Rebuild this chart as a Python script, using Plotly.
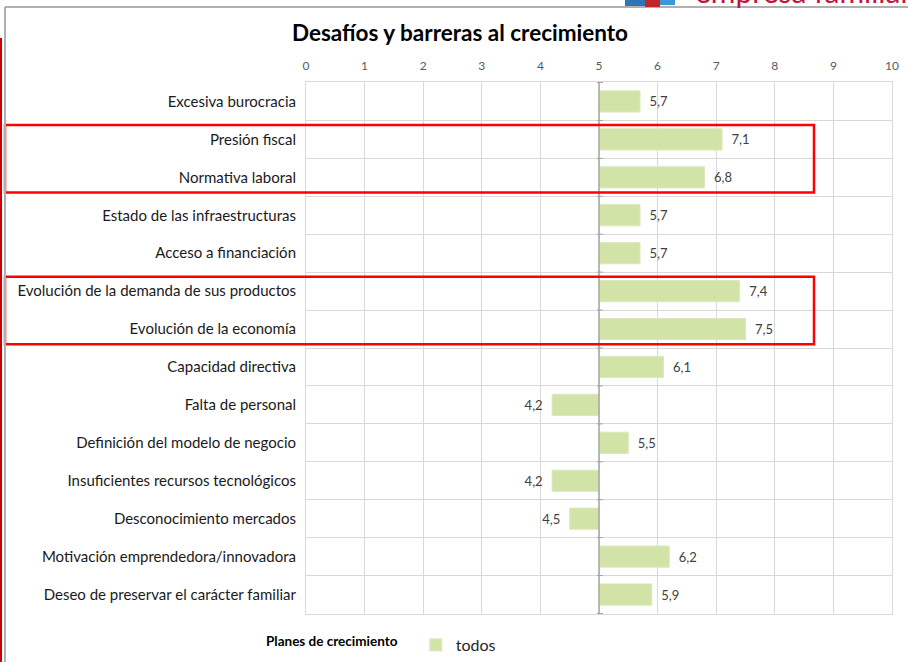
import plotly.graph_objects as go

# ---- data ----
categories = [
    "Excesiva burocracia",
    "Presión fiscal",
    "Normativa laboral",
    "Estado de las infraestructuras",
    "Acceso a financiación",
    "Evolución de la demanda de sus productos",
    "Evolución de la economía",
    "Capacidad directiva",
    "Falta de personal",
    "Definición del modelo de negocio",
    "Insuficientes recursos tecnológicos",
    "Desconocimiento mercados",
    "Motivación emprendedora/innovadora",
    "Deseo de preservar el carácter familiar",
]
values = [5.7, 7.1, 6.8, 5.7, 5.7, 7.4, 7.5, 6.1, 4.2, 5.5, 4.2, 4.5, 6.2, 5.9]
base_value = 5
x_ticks = list(range(0, 11))
series_name = "todos"
legend_title = "Planes de crecimiento"
title_text = "Desafíos y barreras al crecimiento"
highlight_groups = [("Presión fiscal", "Normativa laboral"),
                    ("Evolución de la demanda de sus productos", "Evolución de la economía")]

W, H = 908, 662
L, R, T, B = 306, 16, 82, 48
PW, PH = W - L - R, H - T - B


def px_x(px):
    return (px - L) / PW


def px_y(py):
    return (H - B - py) / PH


SP = "\u2002"
labels = [(SP + f"{v:.1f}".replace(".", ",")) if v >= base_value else (f"{v:.1f}".replace(".", ",") + SP)
          for v in values]

fig = go.Figure()
fig.add_trace(go.Bar(
    y=categories,
    x=[v - base_value for v in values],
    base=base_value,
    orientation="h",
    name=series_name,
    marker=dict(color="#d2e3a8", line=dict(color="#dce9bd", width=1)),
    text=labels,
    textposition="outside",
    textfont=dict(family="Lato", size=13, color="#404040"),
    cliponaxis=False,
    showlegend=True,
    hoverinfo="skip",
))

shapes = []
# axis line at base value
shapes.append(dict(type="line", xref="x", yref="paper", x0=base_value, x1=base_value, y0=0, y1=1,
                   line=dict(color="#a6a6a6", width=1.5), layer="above"))
for i in range(len(categories) + 1):
    shapes.append(dict(type="line", xref="paper", yref="y",
                       x0=px_x(597), x1=px_x(603), y0=i - 0.5, y1=i - 0.5,
                       line=dict(color="#a6a6a6", width=1), layer="above"))

# red highlight boxes
for a, b in highlight_groups:
    ia, ib = categories.index(a), categories.index(b)
    shapes.append(dict(type="rect", xref="paper", yref="y",
                       x0=px_x(5), x1=px_x(814), y0=ia - 0.5 + 0.12, y1=ib + 0.5 - 0.1,
                       line=dict(color="#ff0000", width=2.5), fillcolor="rgba(0,0,0,0)", layer="above"))

# slide frame decorations
shapes.append(dict(type="line", xref="paper", yref="paper", x0=px_x(5), x1=px_x(910),
                   y0=px_y(7), y1=px_y(7), line=dict(color="#b0b0b0", width=2)))
shapes.append(dict(type="line", xref="paper", yref="paper", x0=px_x(5), x1=px_x(5),
                   y0=px_y(7), y1=px_y(664), line=dict(color="#b0b0b0", width=2)))
shapes.append(dict(type="line", xref="paper", yref="paper", x0=px_x(1), x1=px_x(1),
                   y0=px_y(38), y1=px_y(664), line=dict(color="#cc0000", width=2)))
# logo bits
shapes.append(dict(type="rect", xref="paper", yref="paper", x0=px_x(625), x1=px_x(645),
                   y0=px_y(6), y1=px_y(-5), fillcolor="#2e75b6", line=dict(width=0)))
shapes.append(dict(type="rect", xref="paper", yref="paper", x0=px_x(645), x1=px_x(660),
                   y0=px_y(7), y1=px_y(-5), fillcolor="#c0272d", line=dict(width=0)))
shapes.append(dict(type="rect", xref="paper", yref="paper", x0=px_x(660), x1=px_x(675),
                   y0=px_y(5), y1=px_y(-5), fillcolor="#3a9ad9", line=dict(width=0)))

annotations = [
    dict(text="empresa familiar", xref="paper", yref="paper", x=px_x(693), y=px_y(-29),
         xanchor="left", yanchor="top", showarrow=False,
         font=dict(family="Lato", size=30, color="#c0143c")),
]

fig.update_layout(
    width=W, height=H,
    margin=dict(l=L, r=R, t=T, b=B, autoexpand=False),
    paper_bgcolor="white", plot_bgcolor="white",
    title=dict(text=f"<b>{title_text}</b>", x=460 / W, xanchor="center", xref="container",
               y=1 - 33 / H, yanchor="middle", yref="container",
               font=dict(family="Lato", size=22.5, color="#000000")),
    font=dict(family="Lato", color="#404040"),
    bargap=0.44,
    hovermode=False,
    xaxis=dict(side="top", range=[0, 10], tickvals=x_ticks, ticktext=[str(t) for t in x_ticks],
               showgrid=True, gridcolor="#d9d9d9", gridwidth=1, zeroline=False,
               showline=True, linecolor="#d9d9d9", mirror=True, automargin=False,
               tickfont=dict(family="Lato", size=12, color="#595959"), ticks="", ticklabelstandoff=6),
    yaxis=dict(type="category", categoryorder="array", categoryarray=categories, autorange="reversed",
               tickson="boundaries", showgrid=True, gridcolor="#d9d9d9", gridwidth=1, automargin=False,
               ticks="", tickfont=dict(family="Lato", size=15, color="#1a1a1a"),
               showline=True, linecolor="#d9d9d9", mirror=True, ticklabelstandoff=6),
    showlegend=True,
    legend=dict(orientation="h", xref="container", yref="container", x=264 / W, y=1 - 645 / H,
                xanchor="left", yanchor="middle", valign="middle",
                title=dict(text=f"<b>{legend_title}</b>   ",
                           font=dict(family="Lato", size=13.5, color="#000000"), side="left"),
                font=dict(family="Lato", size=16, color="#262626"),
                itemwidth=30),
    shapes=shapes,
    annotations=annotations,
)

fig.write_html("out.html", config={"displayModeBar": False},
               post_script="document.body.style.margin='0';")
